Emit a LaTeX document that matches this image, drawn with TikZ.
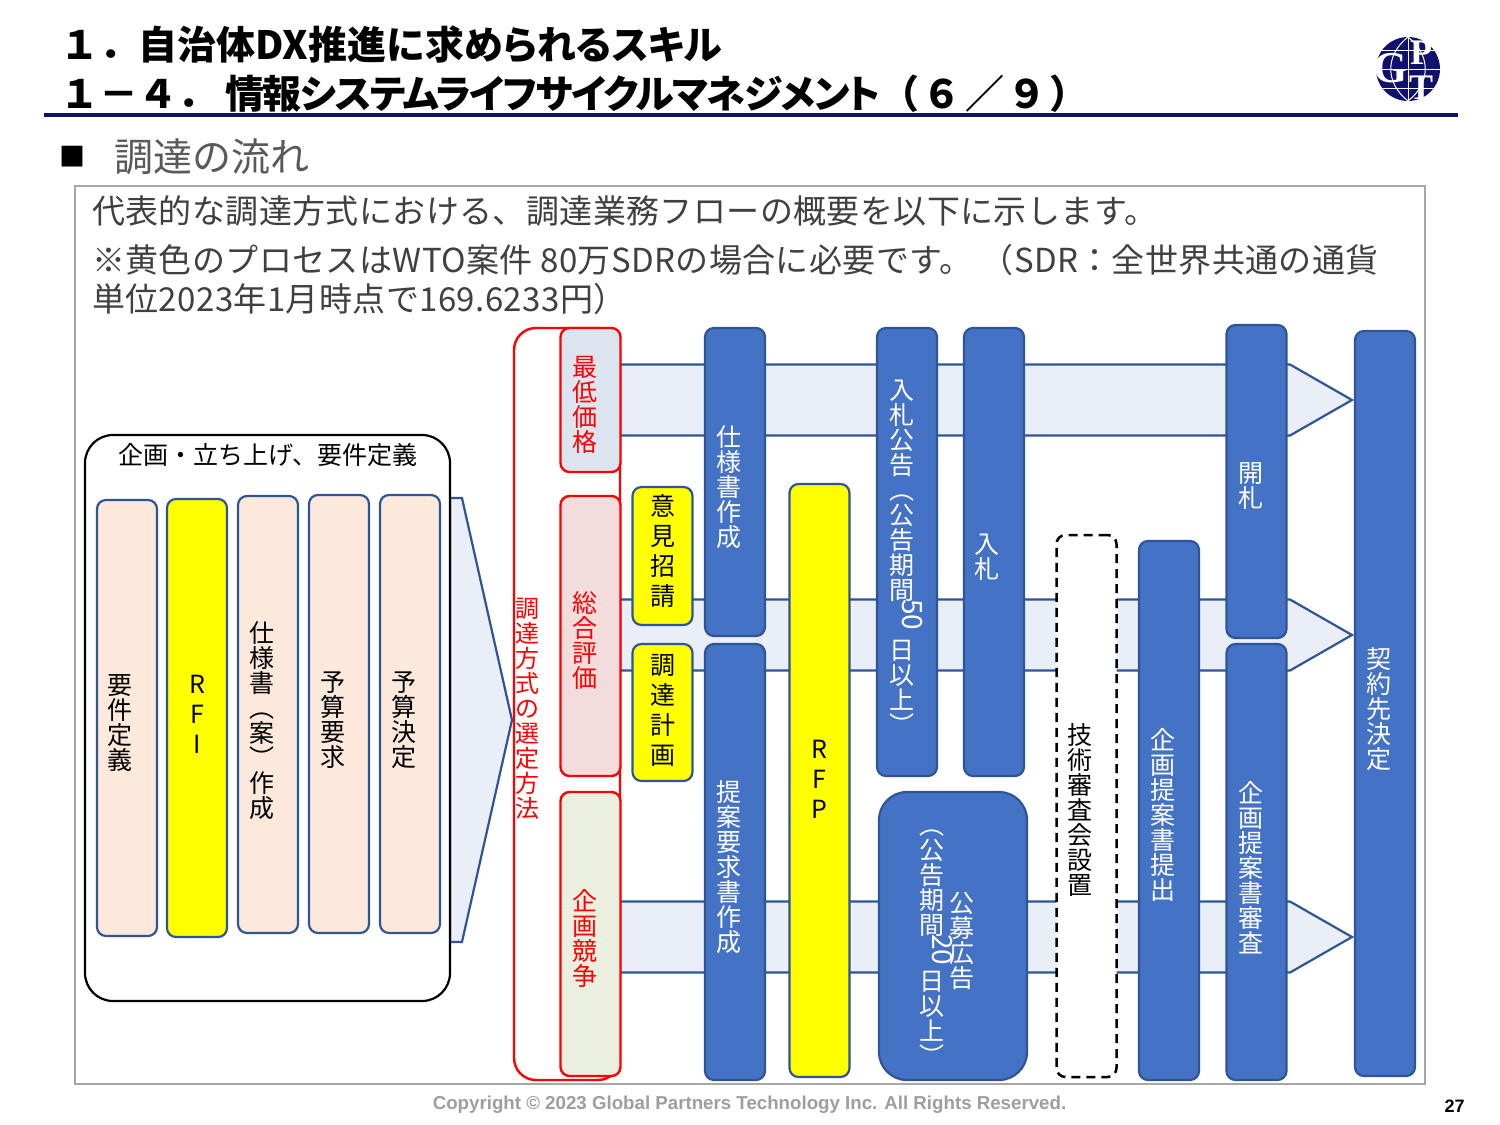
\documentclass[tikz,border=0pt]{standalone}
\usepackage{fontspec}
\usepackage{graphicx}
\setmainfont{Noto Sans CJK JP}
\newfontfamily\footfont{Liberation Sans}
\newfontfamily\logofont{Liberation Serif}
\usepackage{xcolor}
\usetikzlibrary{positioning,shapes.symbols}

\definecolor{navyline}{HTML}{10106E}
\definecolor{shapeblue}{HTML}{4472C4}
\definecolor{edgeblue}{HTML}{2F5597}
\definecolor{flowfill}{HTML}{E9EEF7}
\definecolor{peachfill}{HTML}{FDE9DB}
\definecolor{lowfill}{HTML}{DCE4EF}
\definecolor{evalfill}{HTML}{F2DCDC}
\definecolor{compfill}{HTML}{EBEFE0}
\definecolor{stepyellow}{HTML}{FFFF00}

% vertical text: offset right, offset down, lines
\newcommand{\vt}[3]{\raisebox{\dimexpr-#2pt-6pt\relax}[0pt][0pt]{\makebox[0pt]{\hspace{#1pt}\hspace{#1pt}\parbox[c]{60pt}{\centering\lineskiplimit=-20pt #3}}}}
\newcommand{\vr}[1]{\rotatebox[origin=c]{-90}{#1}}
\newcommand{\vnum}[1]{\hspace*{20pt}\vr{\fontsize{28}{25}\selectfont #1}}
\newcommand{\palt}[1]{{\addfontfeature{RawFeature=+palt}#1}}

\begin{document}
\begin{tikzpicture}[
  x=1pt, y=-1pt,
  stage/.style={rectangle, rounded corners=9pt, draw=edgeblue, line width=2.2pt, inner sep=0pt, outer sep=0pt, minimum width=60pt, font=\fontsize{25}{25}\selectfont},
  bluebox/.style={stage, fill=shapeblue, text=white},
  peachbox/.style={stage, fill=peachfill, text=black},
  yellowbox/.style={stage, fill=stepyellow, text=black},
  yellowwide/.style={yellowbox, font=\fontsize{25}{30}\selectfont},
  redbox/.style={stage, draw=red, line width=2.4pt, text=red},
  flow/.style={signal, signal to=east, draw=edgeblue, line width=2.2pt, fill=flowfill, inner sep=0pt, outer sep=0pt, anchor=west},
  heading/.style={anchor=west, inner sep=0pt, font=\fontsize{39}{39}\selectfont\bfseries},
  bodytext/.style={anchor=west, inner sep=0pt, text=black!75, font=\fontsize{33}{33}\selectfont\addfontfeature{LetterSpace=1.2}}
]
\useasboundingbox (0,0) rectangle (1500,1125);
\fill[white] (0,0) rectangle (1500,1125);

% title
\node[heading] (title1) at (60,45) {１．自治体DX推進に\palt{求められるスキル}};
\node[heading] (title2) at (60,94) {１－４．\hspace{9pt}{\addfontfeature{RawFeature=+palt,LetterSpace=-4}情報システムライフサイクルマネジメント}{\addfontfeature{LetterSpace=8}（６／９）}};
\draw[navyline, line width=4pt] (44,115) -- (1458,115);

% logo
\fill[navyline] (1408,69) circle (32);
\begin{scope}
\clip (1408,69) circle (32);
\draw[white, line width=1pt] (1376,50) -- (1440,50) (1376,69) -- (1440,69) (1376,88) -- (1440,88) (1408,37) -- (1408,101);
\draw[white, line width=1pt] (1408,37) .. controls (1385,55) and (1385,83) .. (1408,101);
\draw[white, line width=1pt] (1408,37) .. controls (1431,55) and (1431,83) .. (1408,101);
\end{scope}
\node[white, inner sep=0pt, font=\fontsize{44}{44}\selectfont\bfseries\logofont] (logog) at (1391,68) {G};
\node[white, inner sep=0pt, font=\fontsize{36}{36}\selectfont\bfseries\logofont] (logop) at (1421,53) {P};
\node[white, inner sep=0pt, font=\fontsize{36}{36}\selectfont\bfseries\logofont] (logot) at (1421,88) {T};

% section head
\node[anchor=west, inner sep=0pt, font=\fontsize{26}{26}\selectfont] (bullet) at (59,157) {■};
\node[anchor=west, inner sep=0pt, text=black!65, font=\fontsize{39}{39}\selectfont] (section) at (114,157) {調達の流れ};

% frame
\node[rectangle, draw=black!35, line width=2pt, inner sep=0pt, outer sep=0pt, anchor=north west, minimum width=1350pt, minimum height=898pt] (frame) at (75,186) {};
\node[bodytext] (intro1) at (92,211) {代表的な調達方式における、調達業務フローの概要を以下に示します。};
\node[bodytext] (intro2) at (92,260) {※黄色のプロセスはWTO案件 80万SDRの場合に必要です。\hspace{8pt}（SDR：全世界共通の通貨};
\node[bodytext] (intro3) at (92,299) {単位2023年1月時点で169.6233円）};

% flow arrows
\node[flow, minimum width=62pt, minimum height=444pt, signal pointer angle=154.6] (planarrow) at (450,720) {};
\node[flow, minimum width=732pt, minimum height=71pt, signal pointer angle=59.6] (lowarrow) at (620,400) {};
\node[flow, minimum width=732pt, minimum height=71pt, signal pointer angle=59.6] (evalarrow) at (620,635) {};
\node[flow, minimum width=732pt, minimum height=71pt, signal pointer angle=59.6] (comparrow) at (620,937) {};

% planning group
\node[rectangle, rounded corners=28pt, draw=black, line width=2.2pt, fill=white, inner sep=0pt, outer sep=0pt, minimum width=365pt, minimum height=566pt] (plan) at (267.5,718) {};
\node[inner sep=0pt, font=\fontsize{25}{25}\selectfont] (plantitle) at (268,455) {企画・立ち上げ、要件定義};
\node[peachbox, minimum height=436pt] (reqdef) at (127,718) {\vt{-7}{5}{要\\件\\定\\義}};
\node[yellowwide, minimum height=438pt, right=10pt of reqdef] (rfi) {\vt{0}{-3}{R\\F\\I}};
\node[peachbox, minimum height=437pt] (specdraft) at (268,714.5) {\vt{-6}{6}{仕\\様\\書\\\vr{（}\\案\\\vr{）}\\作\\成}};
\node[peachbox, minimum height=438pt] (budgetreq) at (339,714) {\vt{-6}{6}{予\\算\\要\\求}};
\node[peachbox, minimum height=438pt, right=11pt of budgetreq] (budgetfix) {\vt{-6}{6}{予\\算\\決\\定}};

% procurement method
\node[redbox, rounded corners=22pt, fill=white, minimum width=106pt, minimum height=752pt, font=\fontsize{24}{25}\selectfont] (method) at (567,704) {\vt{-39.5}{5}{調\\達\\方\\式\\の\\選\\定\\方\\法}};
\node[redbox, fill=lowfill, minimum height=144pt] (lowprice) at (590.5,400) {\vt{-6}{5}{最\\低\\価\\格}};
\node[redbox, fill=evalfill, minimum height=280pt, below=24pt of lowprice] (evaluation) {\vt{-6}{5}{総\\合\\評\\価}};
\node[redbox, fill=compfill, minimum height=284pt, below=16pt of evaluation] (competition) {\vt{-6}{5}{企\\画\\競\\争}};

% steps
\node[yellowwide, minimum height=138pt] (opinion) at (662.5,556) {\vt{0}{-5}{意\\見\\招\\請}};
\node[yellowwide, minimum height=137pt, below=19pt of opinion] (procplan) {\vt{0}{-2}{調\\達\\計\\画}};
\node[bluebox, minimum height=308pt] (specwrite) at (735,482) {\vt{-6}{5}{仕\\様\\書\\作\\成}};
\node[bluebox, minimum height=436pt, below=8pt of specwrite] (rfpwrite) {\vt{-6}{5}{提\\案\\要\\求\\書\\作\\成}};
\node[yellowwide, minimum height=593pt] (rfp) at (819.5,780.5) {\vt{0}{-1}{R\\F\\P}};
\node[bluebox, minimum height=448pt] (notice) at (907,552) {\vt{-5}{7}{入\\札\\公\\告\\\vr{（}\\公\\告\\期\\間\\\vnum{50}\\[10pt]日\\以\\上\\\vr{）}}};
\node[bluebox, minimum height=448pt, right=27pt of notice] (bid) {\vt{-7}{5}{入\\札}};
\node[bluebox, rounded corners=28pt, minimum width=148pt, minimum height=288pt] (ad) at (953,936) {\vt{-21}{5}{\vr{（}\\公\\告\\期\\間\\\vnum{20}\\[6pt]日\\以\\上\\\vr{）}}\vt{9}{5}{公\\募\\広\\告}};
\node[stage, draw=black, line width=2.5pt, dash pattern=on 9pt off 6pt, fill=white, minimum height=542pt] (review) at (1086.5,806) {\vt{-6.5}{4}{技\\術\\審\\査\\会\\設\\置}};
\node[bluebox, minimum height=539pt] (submit) at (1169,810.5) {\vt{-6}{5}{企\\画\\提\\案\\書\\提\\出}};
\node[bluebox, minimum height=313pt] (opening) at (1256.5,481.5) {\vt{-6}{5}{開\\札}};
\node[bluebox, minimum height=436pt, below=6pt of opening] (evalprop) {\vt{-6}{6}{企\\画\\提\\案\\書\\審\\査}};
\node[bluebox, minimum height=745pt] (contract) at (1385,703.5) {\vt{-6}{6}{契\\約\\先\\決\\定}};

% footer
\node[inner sep=0pt, text=black!38, font=\fontsize{18.7}{19}\selectfont\bfseries\footfont] (copyright) at (749.5,1105) {Copyright © 2023 Global Partners Technology Inc. All Rights Reserved.};
\node[inner sep=0pt, font=\fontsize{18}{18}\selectfont\bfseries\footfont] (pageno) at (1454.5,1106) {27};
\end{tikzpicture}
\end{document}
